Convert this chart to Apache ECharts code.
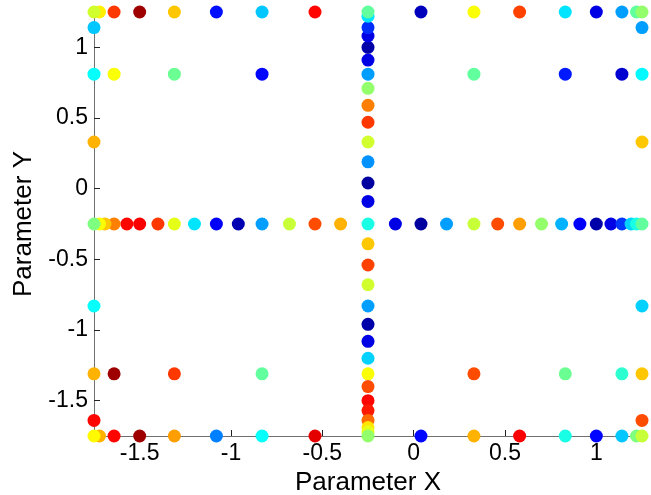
<!DOCTYPE html>
<html>
<head>
<meta charset="utf-8">
<script src="https://cdn.jsdelivr.net/npm/echarts@6/dist/echarts.min.js"></script>
<style>
html,body{margin:0;padding:0;background:#fff;}
#chart{width:651px;height:495px;}
</style>
</head>
<body>
<div id="chart"></div>
<script>
// ---- data ----
// tick labels
var xTicks = [-1.5, -1, -0.5, 0, 0.5, 1];
var yTicks = [-1.5, -1, -0.5, 0, 0.5, 1];

// rows: fixed y, varying x, colour value (0..1 on jet scale)
var topRowY = 1.25;
var topRowX = [-1.75, -1.72, -1.64, -1.50, -1.31, -1.08, -0.83, -0.54, 0.04, 0.33, 0.58, 0.83, 1.00, 1.14, 1.22, 1.25];
var topRowC = [0.58, 0.64, 0.82, 0.97, 0.68, 0.14, 0.32, 0.87, 0.06, 0.62, 0.81, 0.35, 0.10, 0.28, 0.47, 0.52];

var upperRowY = 0.81;
var upperRowX = [-1.75, -1.64, -1.31, -0.83, 0.33, 0.83, 1.14, 1.25];
var upperRowC = [0.38, 0.62, 0.48, 0.13, 0.47, 0.15, 0.08, 0.37];

var lowerRowY = -1.31;
var lowerRowX = [-1.75, -1.64, -1.31, -0.83, 0.33, 0.83, 1.14, 1.25];
var lowerRowC = [0.70, 0.97, 0.82, 0.47, 0.80, 0.48, 0.42, 0.68];

var bottomRowY = -1.75;
var bottomRowX = [-1.75, -1.72, -1.64, -1.50, -1.31, -1.08, -0.83, -0.54, 0.04, 0.33, 0.58, 0.83, 1.00, 1.14, 1.22, 1.25];
var bottomRowC = [0.63, 0.70, 0.87, 0.97, 0.72, 0.25, 0.38, 0.90, 0.13, 0.70, 0.88, 0.40, 0.13, 0.32, 0.50, 0.57];

var centerRowY = -0.25;
var centerRowX = [-1.75, -1.72, -1.69, -1.64, -1.57, -1.50, -1.40, -1.31, -1.20, -1.08, -0.96, -0.83, -0.68, -0.54, -0.40, -0.25,
                  -0.10, 0.04, 0.18, 0.33, 0.46, 0.58, 0.70, 0.81, 0.91, 1.00, 1.08, 1.14, 1.19, 1.22, 1.25];
var centerRowC = [0.50, 0.62, 0.68, 0.75, 0.87, 0.88, 0.82, 0.60, 0.35, 0.12, 0.05, 0.28, 0.57, 0.80, 0.70, 0.40,
                  0.10, 0.03, 0.28, 0.57, 0.80, 0.72, 0.52, 0.30, 0.12, 0.04, 0.10, 0.18, 0.33, 0.40, 0.47];

// columns: fixed x, varying y, colour value
var leftColX = -1.75;
var leftColY = [1.14, 0.33, -0.83, -1.64];
var leftColC = [0.32, 0.70, 0.38, 0.87];

var rightColX = 1.25;
var rightColY = [1.14, 0.33, -0.83, -1.64];
var rightColC = [0.28, 0.68, 0.33, 0.80];

var centerColX = -0.25;
var centerColY = [1.25, 1.22, 1.14, 1.08, 1.00, 0.91, 0.81, 0.71, 0.59, 0.47, 0.33, 0.19, 0.04, -0.09,
                  -0.39, -0.54, -0.68, -0.83, -0.96, -1.08, -1.20, -1.31, -1.40, -1.50, -1.57, -1.64, -1.69, -1.72, -1.75];
var centerColC = [0.47, 0.35, 0.17, 0.10, 0.04, 0.10, 0.28, 0.52, 0.75, 0.82, 0.58, 0.27, 0.03, 0.10,
                  0.68, 0.81, 0.58, 0.28, 0.04, 0.10, 0.33, 0.62, 0.80, 0.87, 0.85, 0.77, 0.65, 0.60, 0.52];

var jet = ['#00007f', '#0000ff', '#007fff', '#00ffff', '#7fff7f', '#ffff00', '#ff7f00', '#ff0000', '#7f0000'];

// ---- build points (drawn from the centre outward so outer points sit on top) ----
function rowPts(y, xs, cs) {
  return xs.map(function (x, i) { return [x, y, cs[i]]; })
    .sort(function (a, b) { return Math.abs(a[0] + 0.25) - Math.abs(b[0] + 0.25); });
}
function colPts(x, ys, cs) {
  return ys.map(function (y, i) { return [x, y, cs[i]]; })
    .sort(function (a, b) { return Math.abs(a[1] + 0.25) - Math.abs(b[1] + 0.25); });
}
var pts = [].concat(
  rowPts(upperRowY, upperRowX, upperRowC),
  rowPts(lowerRowY, lowerRowX, lowerRowC),
  colPts(leftColX, leftColY, leftColC),
  colPts(rightColX, rightColY, rightColC),
  rowPts(centerRowY, centerRowX, centerRowC),
  colPts(centerColX, centerColY, centerColC),
  rowPts(topRowY, topRowX, topRowC),
  rowPts(bottomRowY, bottomRowX, bottomRowC)
);

var font = 'Liberation Sans, Arial, Helvetica, sans-serif';
var chart = echarts.init(document.getElementById('chart'), null, {renderer: 'canvas'});
chart.setOption({
  animation: false,
  backgroundColor: '#ffffff',
  grid: {left: 94, right: 9, top: 12, bottom: 59, containLabel: false, outerBoundsMode: 'none'},
  visualMap: {
    show: false, type: 'continuous', dimension: 2, min: 0, max: 1,
    inRange: {color: jet}
  },
  xAxis: {
    type: 'value', min: -1.75, max: 1.25,
    name: 'Parameter X', nameLocation: 'middle', nameGap: 32,
    nameTextStyle: {fontFamily: font, fontSize: 26, color: '#000'},
    axisLine: {show: true, onZero: false, lineStyle: {color: '#707070', width: 1}},
    axisTick: {show: true, inside: true, length: 6, customValues: xTicks, lineStyle: {color: '#222'}},
    axisLabel: {customValues: xTicks, fontFamily: font, fontSize: 23, color: '#000', margin: 6},
    splitLine: {show: false}
  },
  yAxis: {
    type: 'value', min: -1.75, max: 1.25,
    name: 'Parameter Y', nameLocation: 'middle', nameGap: 57, nameRotate: 90,
    nameTextStyle: {fontFamily: font, fontSize: 26, color: '#000'},
    axisLine: {show: true, onZero: false, lineStyle: {color: '#707070', width: 1}},
    axisTick: {show: true, inside: true, length: 6, customValues: yTicks, lineStyle: {color: '#222'}},
    axisLabel: {customValues: yTicks, fontFamily: font, fontSize: 23, color: '#000', margin: 6},
    splitLine: {show: false}
  },
  series: [{
    type: 'scatter',
    data: pts,
    symbol: 'circle',
    symbolSize: 13,
    clip: false,
    itemStyle: {opacity: 1}
  }]
});
</script>
</body>
</html>
